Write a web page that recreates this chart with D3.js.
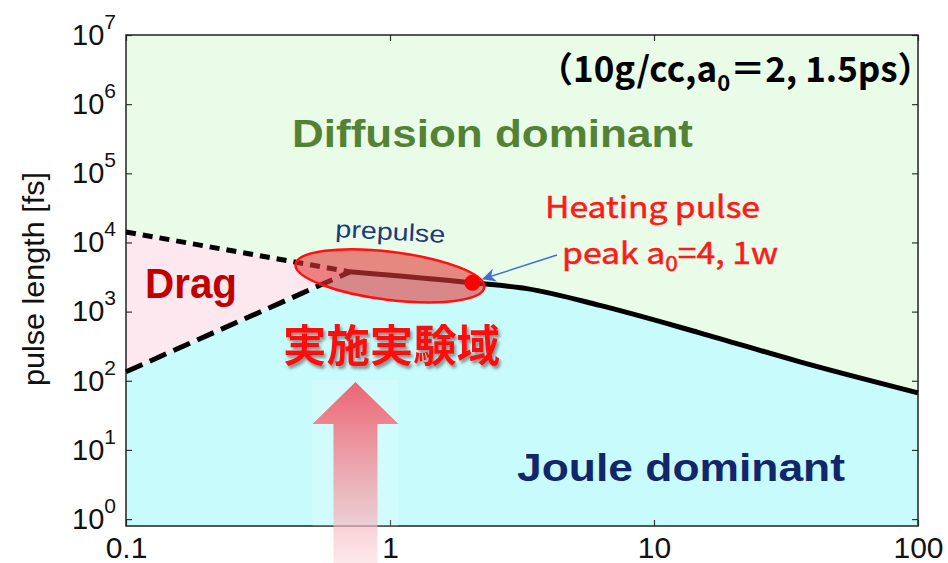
<!DOCTYPE html>
<html>
<head>
<meta charset="utf-8">
<script src="https://cdn.jsdelivr.net/npm/d3@7"></script>
<style>
  body { margin: 0; background: #fff; }
  svg { display: block; }
</style>
</head>
<body>
<div id="chart"></div>
<script>
// axis ticks
const xTicks = [0.1, 1, 10, 100];
const xTickLabels = ["0.1", "1", "10", "100"];
const yTicks = [1, 10, 100, 1e3, 1e4, 1e5, 1e6, 1e7];
const yTickExponents = ["0", "1", "2", "3", "4", "5", "6", "7"];

// regime boundaries (x: a0-ish parameter, y: pulse length in fs)
const dragUpperX = [0.1, 0.705];
const dragUpperY = [14200, 3760];
const dragLowerX = [0.1, 0.705];
const dragLowerY = [135, 3760];
const boundaryX = [0.705, 2.05, 3.3, 6.24, 14.9, 35.7, 100];
const boundaryY = [3760, 2610, 2150, 1230, 494, 188, 67];

// experiment markers
const heatingX = [2.05];
const heatingY = [2610];
const regionX = [0.436, 2.29];   // ellipse extent along x
const regionY = [3290];          // ellipse centre height
const arrowX = [0.74];

const WIDTH = 948;
const HEIGHT = 563;
const LEFT = 126, RIGHT = 918, TOP = 35, BOTTOM = 526;

const x = d3.scaleLog().domain([0.1, 100]).range([LEFT, RIGHT]);
const y = d3.scaleLog().domain([Math.pow(10, -0.1), 1e7]).range([BOTTOM, TOP]);
const [yMin, yMax] = y.domain();

const zip = (xs, ys) => xs.map((v, i) => [v, ys[i]]);
const upper = zip(dragUpperX, dragUpperY);
const lower = zip(dragLowerX, dragLowerY);
const boundary = zip(boundaryX, boundaryY);

const svg = d3.select("#chart").append("svg")
  .attr("width", WIDTH)
  .attr("height", HEIGHT);

const defs = svg.append("defs");
const grad = defs.append("linearGradient")
  .attr("id", "arrowGrad")
  .attr("x1", 0).attr("y1", 0).attr("x2", 0).attr("y2", 1);
grad.append("stop").attr("offset", 0).attr("stop-color", "#ee5c6c").attr("stop-opacity", 0.95);
grad.append("stop").attr("offset", 0.3).attr("stop-color", "#f07c88").attr("stop-opacity", 0.85);
grad.append("stop").attr("offset", 0.7).attr("stop-color", "#f5aab2").attr("stop-opacity", 0.7);
grad.append("stop").attr("offset", 1).attr("stop-color", "#fbd6da").attr("stop-opacity", 0.55);

const shadow = defs.append("filter").attr("id", "shadow")
  .attr("x", "-10%").attr("y", "-20%").attr("width", "130%").attr("height", "150%");
shadow.append("feDropShadow")
  .attr("dx", 2).attr("dy", 3).attr("stdDeviation", 1.5)
  .attr("flood-color", "#555").attr("flood-opacity", 0.6);

defs.append("marker")
  .attr("id", "blueHead")
  .attr("viewBox", "0 0 10 10")
  .attr("refX", 9).attr("refY", 5)
  .attr("markerWidth", 9).attr("markerHeight", 9)
  .attr("orient", "auto")
  .append("path")
  .attr("d", "M0,0 L10,5 L0,10 L3,5 Z")
  .attr("fill", "#3f6fd0");

const line = d3.line().x(d => x(d[0])).y(d => y(d[1]));
const smooth = d3.line().x(d => x(d[0])).y(d => y(d[1])).curve(d3.curveMonotoneX);

// regions
const diffusion = [[0.1, yMax], [100, yMax], ...boundary.slice().reverse(), ...upper.slice().reverse()];
const drag = [...upper, ...lower.slice().reverse()];
const joule = [...lower, ...boundary.slice(1), [100, yMin], [0.1, yMin]];

svg.append("path").attr("d", line(diffusion) + "Z").attr("fill", "#e9fce8");
svg.append("path").attr("d", line(drag) + "Z").attr("fill", "#fde8f0");
svg.append("path").attr("d", line(joule) + "Z").attr("fill", "#c8fcfc");

// axes with inward ticks on all sides
const minorX = x.ticks().filter(v => !xTicks.includes(v));
const minorY = y.ticks().filter(v => !yTicks.includes(v) && v >= 1);

function drawAxis(axisFn, scale, translate, major, minor) {
  const g = svg.append("g").attr("transform", translate);
  g.call(axisFn(scale).tickValues(minor).tickSizeInner(-3).tickSizeOuter(0).tickFormat(""));
  g.call(axisFn(scale).tickValues(major).tickSizeInner(-6).tickSizeOuter(0).tickFormat(""));
  g.selectAll(".domain").remove();
  g.selectAll("line").attr("stroke", "#333").attr("stroke-width", 1.2);
  return g;
}
drawAxis(d3.axisTop, x, `translate(0,${TOP})`, xTicks, minorX);
drawAxis(d3.axisRight, y, `translate(${RIGHT},0)`, yTicks, minorY);
drawAxis(d3.axisBottom, x, `translate(0,${BOTTOM})`, xTicks, minorX);
drawAxis(d3.axisLeft, y, `translate(${LEFT},0)`, yTicks, minorY);

const xLab = svg.append("g").attr("transform", `translate(0,${BOTTOM})`)
  .call(d3.axisBottom(x).tickValues(xTicks).tickSize(0).tickPadding(11)
    .tickFormat((d, i) => xTickLabels[i]));
xLab.select(".domain").remove();
xLab.selectAll("text")
  .attr("font-family", "'Liberation Sans', Arial, sans-serif")
  .attr("font-size", 30)
  .attr("fill", "#111");

const yLab = svg.append("g").attr("transform", `translate(${LEFT},0)`)
  .call(d3.axisLeft(y).tickValues(yTicks).tickSize(0).tickPadding(10).tickFormat(""));
yLab.select(".domain").remove();
yLab.selectAll("text")
  .attr("font-family", "'Liberation Sans', Arial, sans-serif")
  .attr("font-size", 29)
  .attr("fill", "#111")
  .each(function (d, i) {
    const t = d3.select(this).text("10");
    t.append("tspan").attr("dy", -16).attr("font-size", 21).text(yTickExponents[i]);
  });

svg.append("text")
  .attr("transform", "translate(44,279) rotate(-90)")
  .attr("text-anchor", "middle")
  .attr("font-family", "'Liberation Sans', Arial, sans-serif")
  .attr("font-size", 29)
  .attr("textLength", 214)
  .attr("lengthAdjust", "spacingAndGlyphs")
  .attr("fill", "#111")
  .text("pulse length [fs]");

// frame
svg.append("rect")
  .attr("x", LEFT).attr("y", TOP)
  .attr("width", RIGHT - LEFT).attr("height", BOTTOM - TOP)
  .attr("fill", "none").attr("stroke", "#222").attr("stroke-width", 1.5);

// boundary lines
svg.append("path").attr("d", line(upper))
  .attr("fill", "none").attr("stroke", "#000").attr("stroke-width", 5)
  .attr("stroke-dasharray", "10,7");
svg.append("path").attr("d", line(lower))
  .attr("fill", "none").attr("stroke", "#000").attr("stroke-width", 5)
  .attr("stroke-dasharray", "18,8");
svg.append("path").attr("d", smooth(boundary))
  .attr("fill", "none").attr("stroke", "#000").attr("stroke-width", 5)
  .attr("stroke-linejoin", "round");

// region labels
const bold = "'Liberation Sans', Arial, sans-serif";
svg.append("text").attr("x", 292).attr("y", 147)
  .attr("font-family", bold).attr("font-weight", "bold").attr("font-size", 38)
  .attr("textLength", 401).attr("lengthAdjust", "spacingAndGlyphs")
  .attr("fill", "#548235").text("Diffusion dominant");
svg.append("text").attr("x", 145).attr("y", 298)
  .attr("font-family", bold).attr("font-weight", "bold").attr("font-size", 43)
  .attr("textLength", 92).attr("lengthAdjust", "spacingAndGlyphs")
  .attr("fill", "#c00000").text("Drag");
svg.append("text").attr("x", 517).attr("y", 481)
  .attr("font-family", bold).attr("font-weight", "bold").attr("font-size", 38)
  .attr("textLength", 328).attr("lengthAdjust", "spacingAndGlyphs")
  .attr("fill", "#12266b").text("Joule dominant");

// condition label
const jp = "'Noto Sans CJK JP', 'Noto Sans', sans-serif";
const cond = svg.append("text").attr("x", 538).attr("y", 82)
  .attr("font-family", jp).attr("font-weight", "bold").attr("font-size", 35)
  .attr("fill", "#000");
cond.append("tspan").text("（10g/cc,a");
cond.append("tspan").attr("dy", 9).attr("font-size", 22).text("0");
cond.append("tspan").attr("dy", -9).text("＝2, 1.5ps）");

// experiment region ellipse
const ex0 = x(regionX[0]), ex1 = x(regionX[1]);
svg.append("ellipse")
  .attr("transform", `translate(${(ex0 + ex1) / 2},${y(regionY[0])}) rotate(7)`)
  .attr("rx", (ex1 - ex0) / 2).attr("ry", 24)
  .attr("fill", "#e33a3a").attr("fill-opacity", 0.6)
  .attr("stroke", "#ff1010").attr("stroke-width", 2.5);

svg.selectAll(".heat").data(zip(heatingX, heatingY)).join("circle")
  .attr("class", "heat")
  .attr("cx", d => x(d[0])).attr("cy", d => y(d[1])).attr("r", 8)
  .attr("fill", "#ff0000");

svg.append("line")
  .attr("x1", 557).attr("y1", 255)
  .attr("x2", x(heatingX[0]) + 11).attr("y2", y(heatingY[0]) - 4)
  .attr("stroke", "#3f6fd0").attr("stroke-width", 1.5)
  .attr("marker-end", "url(#blueHead)");

svg.append("text").attr("transform", "translate(335,237) rotate(3)")
  .attr("font-family", "'Liberation Sans', Arial, sans-serif").attr("font-size", 24)
  .attr("textLength", 110).attr("lengthAdjust", "spacingAndGlyphs")
  .attr("fill", "#1f3a78").text("prepulse");

svg.append("text").attr("x", 545).attr("y", 218)
  .attr("font-family", jp).attr("font-size", 30)
  .attr("textLength", 215).attr("lengthAdjust", "spacingAndGlyphs")
  .attr("fill", "#ff1a1a").attr("stroke", "#ff1a1a").attr("stroke-width", 0.5)
  .text("Heating pulse");
const peak = svg.append("text").attr("x", 562).attr("y", 264)
  .attr("font-family", jp).attr("font-size", 30)
  .attr("textLength", 216).attr("lengthAdjust", "spacingAndGlyphs")
  .attr("fill", "#ff1a1a").attr("stroke", "#ff1a1a").attr("stroke-width", 0.5);
peak.append("tspan").text("peak a");
peak.append("tspan").attr("dy", 7).attr("font-size", 20).text("0");
peak.append("tspan").attr("dy", -7).text("=4, 1w");

svg.append("text").attr("x", 283).attr("y", 362)
  .attr("font-family", jp).attr("font-weight", "bold").attr("font-size", 44)
  .attr("textLength", 217).attr("lengthAdjust", "spacingAndGlyphs")
  .attr("fill", "#ff1010").attr("filter", "url(#shadow)")
  .text("実施実験域");

// big upward arrow
const ax = x(arrowX[0]);
svg.append("rect")
  .attr("x", ax - 43).attr("y", 380).attr("width", 86).attr("height", BOTTOM - 380)
  .attr("fill", "#fff").attr("fill-opacity", 0.18);
svg.append("path")
  .attr("d", `M${ax},382 L${ax + 43},424 L${ax + 22},424 L${ax + 22},${HEIGHT} L${ax - 22},${HEIGHT} L${ax - 22},424 L${ax - 43},424 Z`)
  .attr("fill", "url(#arrowGrad)");
</script>
</body>
</html>
